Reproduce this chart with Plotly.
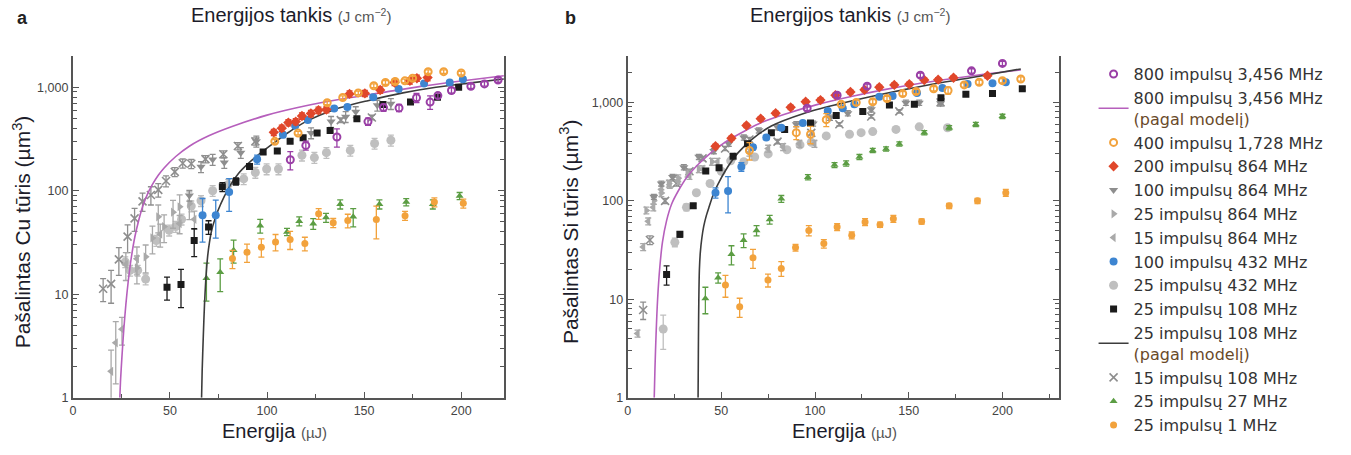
import plotly.graph_objects as go

W, H = 1351, 455

# ---------------- DATA: panel a (Cu) ----------------
A_E_800 = [112, 120, 136, 152, 160, 168, 177, 184, 188, 195, 205, 212, 219]
A_V_800 = [199, 274, 330, 465, 635, 631, 790, 718, 830, 930, 1022, 1076, 1174]
A_R_800 = [0.2, 0.1, 0.2, 0.08, 0.08, 0.08, 0.1, 0.15, 0.06, 0.06, 0.05, 0.05, 0.05]

A_E_800M = [24.2, 24.6, 25.3, 26.2, 27.3, 28.5, 30, 32, 34, 36, 38.5, 41, 44, 47, 53, 60, 70, 82, 100, 120, 140, 160, 180, 200, 222]
A_V_800M = [1, 1.51, 2.51, 4.47, 7.94, 13.2, 21.9, 36.3, 52.5, 70.8, 93.3, 115, 141, 166, 214, 269, 339, 417, 537, 661, 776, 891, 1023, 1148, 1288]

A_E_400 = [104, 116, 131, 139, 147, 155, 161, 166, 171, 175, 183, 191, 200]
A_V_400 = [300, 360, 708, 794, 881, 1033, 1111, 1135, 1152, 1221, 1413, 1413, 1371]

A_E_200 = [103.5, 107.6, 111, 114.8, 118, 122.6, 126.5, 130.6, 142.5, 150.4, 158.3, 165.7, 173.6, 177.2, 182.7]
A_V_200 = [366, 402, 455, 465, 527, 557, 599, 608, 861, 872, 939, 1111, 1152, 1221, 1240]

A_E_100_864 = [60, 66, 72, 78, 86.5, 94.5, 122.7, 133, 140.5, 145.7, 156.8, 163.8]
A_V_100_864 = [90, 170, 200, 187, 233, 300, 361, 465, 518, 578, 668, 692]

A_E_25_864 = [33, 37.5, 41, 44, 47, 51.6, 55, 60]
A_V_25_864 = [18, 23, 35, 56, 45, 62, 70, 75]

A_E_15_864 = [19.7, 22.1, 25.3, 27.3, 33, 45, 55, 62.6]
A_V_15_864 = [1.8, 3.4, 4.6, 19.4, 22, 38, 48, 53]
A_R_15_864 = [0.6, 0.6, 0.3, 0.3, 0.3, 0.25, 0.2, 0.2]

A_E_100_432 = [66.8, 73.6, 80.5, 94.9, 108.2, 114.5, 121, 134.6, 141.4, 154.7, 167.8, 180.9, 194.1, 200.9]
A_V_100_432 = [58, 58, 97, 201, 347, 423, 482, 621, 644, 801, 960, 1086, 1111, 1195]
A_R_100_432 = [0.45, 0.4, 0.35, 0.1, 0.06, 0.05, 0.05, 0.04, 0.04, 0.04, 0.04, 0.04, 0.04, 0.04]

A_E_25_432 = [27, 29.5, 33.4, 37.5, 43, 49.6, 53, 56, 61, 66, 72, 80, 88, 94, 99.8, 105.9, 118, 124.4, 130.6, 142.9, 155.4, 163.8]
A_V_25_432 = [20.5, 17, 17, 14, 33, 41.5, 45, 53, 71, 80, 100, 115, 130, 150, 162, 162, 220, 209, 233, 245, 286, 307]

A_E_25_108 = [48.5, 55.7, 62.5, 69.9, 77, 84, 91, 98, 105.3, 111.9, 118.6, 125.8, 132.5, 146.3, 159.7, 173.9, 187.8, 198.7]
A_V_25_108 = [11.7, 12.4, 33, 44.6, 109, 123, 171, 237, 242, 300, 324, 361, 382, 496, 682, 718, 801, 996]
A_R_25_108 = [0.25, 0.4, 0.3, 0.15, 0.1, 0.08, 0.06, 0.05, 0.05, 0.04, 0.04, 0.04, 0.04, 0.04, 0.04, 0.04, 0.04, 0.04]

A_E_108M = [66.3, 66.6, 67.2, 67.8, 68.5, 69.4, 70.4, 71.5, 73, 74.7, 78, 81.2, 85.3, 90.1, 95, 102, 110, 120, 135, 152, 170, 187, 205, 222]
A_V_108M = [1, 1.8, 4, 7.9, 14, 23, 32, 41.5, 52, 64, 88, 114, 147, 182, 218, 275, 355, 465, 610, 741, 881, 1000, 1100, 1200]

A_E_15_108 = [15.6, 19.7, 23.7, 28.2, 31.8, 35.9, 40.2, 44, 48, 52.5, 56.6, 61, 68.3, 77.5, 85, 94, 138, 154]
A_V_15_108 = [11.3, 12.6, 21.7, 36, 54, 79, 91, 102, 124, 152, 184, 182, 202, 225, 270, 300, 480, 510]
A_R_15_108 = [0.25, 0.35, 0.3, 0.3, 0.25, 0.2, 0.2, 0.15, 0.12, 0.1, 0.1, 0.1, 0.08, 0.08, 0.08, 0.08, 0.05, 0.05]

A_E_27 = [68.8, 75.9, 82.8, 96.5, 110.3, 116.6, 123.8, 130.4, 137.7, 144.4, 157.9, 171.7, 185.4, 199.2]
A_V_27 = [14.3, 16.3, 26.6, 45.9, 40, 50.8, 48, 55, 74, 56, 74, 77.6, 74, 89]
A_R_27 = [0.4, 0.35, 0.25, 0.15, 0.08, 0.1, 0.12, 0.1, 0.1, 0.2, 0.1, 0.08, 0.1, 0.08]

A_E_1 = [82.2, 89.7, 97.1, 104.4, 111.9, 119.5, 126.6, 134.1, 141.6, 156.3, 171.1, 186.2, 201.1]
A_V_1 = [22.1, 25.4, 28.5, 32, 33.8, 30.9, 60, 49, 51.5, 52.6, 57.4, 77.6, 75.5]
A_R_1 = [0.2, 0.2, 0.2, 0.18, 0.2, 0.15, 0.12, 0.1, 0.15, 0.35, 0.1, 0.1, 0.1]

# ---------------- DATA: panel b (Si) ----------------
B_E_800 = [95.8, 111.8, 127.8, 156.2, 183.5, 200]
B_V_800 = [872, 1182, 1462, 1892, 2091, 2490]

B_E_800M = [14.2, 14.6, 15.2, 16, 17.2, 18.6, 20.8, 23.5, 27, 32, 37.6, 43, 48.3, 55, 62.5, 72, 83.8, 101.5, 119.3, 137, 154.7, 172.5, 190, 209.8]
B_V_800M = [1, 2.0, 4.47, 10, 21.4, 38, 63, 93, 126, 178, 234, 292, 351, 427, 513, 631, 759, 955, 1148, 1349, 1549, 1738, 1928, 2138]

B_E_400 = [65, 90, 97.6, 106, 114, 122, 130.8, 138.4, 146.8, 153.9, 163.3, 171, 179.6, 187.6, 200, 209.8]
B_V_400 = [325, 493, 475, 668, 955, 1000, 1016, 1096, 1228, 1290, 1378, 1320, 1506, 1603, 1663, 1729]
B_R_400 = [0.2, 0.15, 0.2, 0.15, 0.06, 0.06, 0.05, 0.05, 0.05, 0.05, 0.05, 0.08, 0.05, 0.05, 0.05, 0.05]

B_E_200 = [46.9, 55.4, 63.4, 71, 79, 87, 95, 102.9, 110.9, 118.9, 126.4, 134.3, 142.3, 150.3, 158.3, 165.7, 173.9, 192]
B_V_200 = [358, 433, 583, 684, 778, 891, 1016, 1055, 1182, 1276, 1345, 1428, 1506, 1531, 1690, 1702, 1779, 1862]

B_E_100_864 = [14, 18, 24, 30, 38, 46, 54, 62, 70, 80, 90, 99, 108, 117.5, 130, 148.5, 155.6, 167]
B_V_100_864 = [110, 150, 175, 220, 280, 320, 380, 440, 520, 560, 600, 610, 700, 778, 850, 993, 993, 978]

B_E_25_864 = [10, 14, 18, 22, 27, 32, 38, 45]
B_V_25_864 = [80, 100, 120, 150, 170, 190, 210, 250]

B_E_15_864 = [5.3, 8.3, 11, 13.7, 18, 22.5, 27, 33, 40, 48, 56, 65, 75, 83, 91.7, 99.7]
B_V_15_864 = [4.5, 34, 62, 86, 131, 146, 160, 180, 210, 250, 280, 310, 340, 353, 380, 380]

B_E_100_432 = [46.9, 53.6, 60.7, 66.9, 74, 82, 93.5, 106.8, 114.8, 121, 134.3, 141.4, 154.4, 168, 181.4, 194.7, 201.8]
B_V_100_432 = [121, 126, 222, 351, 441, 553, 617, 820, 872, 955, 1138, 1164, 1247, 1397, 1542, 1566, 1603]
B_R_100_432 = [0.12, 0.4, 0.1, 0.06, 0.05, 0.05, 0.05, 0.05, 0.05, 0.05, 0.04, 0.04, 0.04, 0.04, 0.04, 0.04, 0.04]

B_E_25_432 = [19, 25.2, 31.4, 36.7, 44, 50, 55, 62, 67.8, 75, 85, 92, 98, 106, 118.4, 124.6, 130.8, 143.2, 155.6, 170.7]
B_V_25_432 = [5, 38, 86, 121, 150, 200, 255, 250, 279, 300, 330, 370, 393, 457, 475, 493, 505, 532, 565, 553]
B_R_25_432 = [0.38, 0.1, 0.08, 0.06, 0.06, 0.05, 0.05, 0.05, 0.05, 0.05, 0.05, 0.05, 0.05, 0.05, 0.04, 0.04, 0.04, 0.04, 0.04, 0.04]

B_E_25_108 = [20.8, 27.9, 35, 41.7, 48.8, 56.3, 64, 76.7, 83.8, 97.6, 111.3, 125.5, 139.7, 153, 167.2, 180.5, 194.7, 210.6]
B_V_25_108 = [17.9, 45.7, 89, 201, 217, 283, 380, 493, 532, 619, 738, 809, 942, 955, 1112, 1210, 1228, 1378]
B_R_25_108 = [0.22, 0.06, 0.05, 0.04, 0.04, 0.04, 0.04, 0.04, 0.04, 0.04, 0.04, 0.04, 0.04, 0.04, 0.04, 0.04, 0.04, 0.04]

B_E_108M = [37.6, 37.7, 37.8, 38.0, 38.3, 38.8, 39.6, 40.6, 42, 43.5, 46, 49, 52, 55, 59, 66, 76.7, 94.4, 112, 130, 147.6, 165.4, 183, 209.8]
B_V_108M = [1, 2, 4, 10, 20, 30, 41.7, 55, 70.8, 87, 120, 158, 200, 245, 309, 417, 575, 776, 955, 1148, 1349, 1567, 1778, 2188]

B_E_15_108 = [8.3, 11.9, 20, 26, 33, 40, 52, 65, 80, 98, 113, 130, 145, 167]
B_V_15_108 = [7.8, 40, 100, 150, 200, 270, 340, 420, 400, 490, 600, 720, 810, 1000]
B_R_15_108 = [0.2, 0.1, 0.06, 0.06, 0.05, 0.05, 0.05, 0.05, 0.05, 0.05, 0.04, 0.04, 0.04, 0.04]

B_E_27 = [41.5, 48.3, 55.4, 61.9, 68.8, 75.8, 82, 96.2, 110.4, 116.6, 123.7, 130.8, 137.9, 145, 158.3, 171.6, 185.8, 200]
B_V_27 = [10.2, 16.6, 28.7, 39.8, 50, 64.6, 105, 174, 231, 240, 279, 325, 337, 378, 493, 553, 597, 722]
B_R_27 = [0.3, 0.12, 0.22, 0.16, 0.12, 0.1, 0.08, 0.06, 0.06, 0.06, 0.06, 0.05, 0.05, 0.05, 0.05, 0.05, 0.05, 0.05]

B_E_1 = [52.2, 59.8, 66.9, 74.9, 82, 89.6, 96.7, 104.7, 111.8, 119.6, 126.7, 134.7, 141.8, 156.9, 171.6, 186.7, 201.8]
B_V_1 = [14, 8.4, 26.4, 15.7, 20.6, 33.5, 50, 36.8, 54.2, 44.7, 61, 57.3, 65.8, 61.7, 89, 100, 121]
B_R_1 = [0.25, 0.22, 0.22, 0.15, 0.17, 0.08, 0.12, 0.1, 0.08, 0.08, 0.08, 0.06, 0.08, 0.06, 0.06, 0.06, 0.08]

# tick labels / axis ranges
Y_TICKS = [1, 10, 100, 1000]
Y_TICKTEXT = ["1", "10", "100", "1,000"]
E_TICKS = [0, 50, 100, 150, 200]
F_TICKS = [0, 10, 20, 30, 40]
A_E_MAX, A_F_MAX = 222, 42.5
B_E_MAX, B_F_MAX = 230, 43.4

# ---------------- styles ----------------
C_PURPLE = "#9a3fa6"
C_MAGENTA = "#b65fbc"
C_ORANGE = "#f2a23c"
C_RED = "#e0472b"
C_GRAY = "#8e8e8e"
C_GRAY2 = "#a9a9a9"
C_BLUE = "#3d85d1"
C_LGRAY = "#bfbfbf"
C_BLACK = "#1b1b1b"
C_BLINE = "#3c3c3c"
C_GREEN = "#5b9d43"

MODEL = "<br><span style='color:#6a4a2a'>(pagal modelį)</span>"
SERIES = [
    ("800", "800 impulsų 3,456 MHz", 1),
    ("800M", "800 impulsų 3,456 MHz" + MODEL, 2),
    ("400", "400 impulsų 1,728 MHz", 3),
    ("200", "200 impulsų 864 MHz", 4),
    ("100_864", "100 impulsų 864 MHz", 5),
    ("25_864", "25 impulsų 864 MHz", 6),
    ("15_864", "15 impulsų 864 MHz", 7),
    ("100_432", "100 impulsų 432 MHz", 8),
    ("25_432", "25 impulsų 432 MHz", 9),
    ("25_108", "25 impulsų 108 MHz", 10),
    ("108M", "25 impulsų 108 MHz" + MODEL, 11),
    ("15_108", "15 impulsų 108 MHz", 12),
    ("27", "25 impulsų 27 MHz", 13),
    ("1", "25 impulsų 1 MHz", 14),
]
STYLE = {
    "800": dict(symbol="circle-open", color=C_PURPLE, size=7, lw=2),
    "400": dict(symbol="circle-open", color=C_ORANGE, size=7, lw=2),
    "200": dict(symbol="diamond", color=C_RED, size=8, lw=0),
    "100_864": dict(symbol="triangle-down", color=C_GRAY, size=8, lw=0),
    "25_864": dict(symbol="triangle-right", color=C_GRAY2, size=8, lw=0),
    "15_864": dict(symbol="triangle-left", color=C_GRAY2, size=8, lw=0),
    "100_432": dict(symbol="circle", color=C_BLUE, size=8, lw=0),
    "25_432": dict(symbol="circle", color=C_LGRAY, size=9, lw=0),
    "25_108": dict(symbol="square", color=C_BLACK, size=7, lw=0),
    "15_108": dict(symbol="x-thin-open", color=C_GRAY, size=8, lw=1.6),
    "27": dict(symbol="triangle-up", color=C_GREEN, size=7, lw=0),
    "1": dict(symbol="circle", color=C_ORANGE, size=7, lw=0),
}
LINESTYLE = {"800M": C_MAGENTA, "108M": C_BLINE}

DATA = {
    "a": {
        "800": (A_E_800, A_V_800, A_R_800), "800M": (A_E_800M, A_V_800M, None),
        "400": (A_E_400, A_V_400, 0.04), "200": (A_E_200, A_V_200, 0.07),
        "100_864": (A_E_100_864, A_V_100_864, 0.12), "25_864": (A_E_25_864, A_V_25_864, 0.3),
        "15_864": (A_E_15_864, A_V_15_864, A_R_15_864), "100_432": (A_E_100_432, A_V_100_432, A_R_100_432),
        "25_432": (A_E_25_432, A_V_25_432, 0.12), "25_108": (A_E_25_108, A_V_25_108, A_R_25_108),
        "108M": (A_E_108M, A_V_108M, None), "15_108": (A_E_15_108, A_V_15_108, A_R_15_108),
        "27": (A_E_27, A_V_27, A_R_27), "1": (A_E_1, A_V_1, A_R_1),
    },
    "b": {
        "800": (B_E_800, B_V_800, 0.05), "800M": (B_E_800M, B_V_800M, None),
        "400": (B_E_400, B_V_400, B_R_400), "200": (B_E_200, B_V_200, 0.05),
        "100_864": (B_E_100_864, B_V_100_864, 0.06), "25_864": (B_E_25_864, B_V_25_864, 0.08),
        "15_864": (B_E_15_864, B_V_15_864, 0.08), "100_432": (B_E_100_432, B_V_100_432, B_R_100_432),
        "25_432": (B_E_25_432, B_V_25_432, B_R_25_432), "25_108": (B_E_25_108, B_V_25_108, B_R_25_108),
        "108M": (B_E_108M, B_V_108M, None), "15_108": (B_E_15_108, B_V_15_108, B_R_15_108),
        "27": (B_E_27, B_V_27, B_R_27), "1": (B_E_1, B_V_1, B_R_1),
    },
}

DRAW_ORDER = ["25_432", "15_108", "15_864", "25_864", "100_864", "27", "1",
              "800M", "108M", "25_108", "100_432", "200", "400", "800"]

fig = go.Figure()
names = {k: (n, r) for k, n, r in SERIES}
for panel, xa, ya in (("a", "x", "y"), ("b", "x2", "y2")):
    for key in DRAW_ORDER:
        E, V, rel = DATA[panel][key]
        name, rank = names[key]
        common = dict(x=E, y=V, name=name, legendgroup=key, legendrank=rank,
                      showlegend=(panel == "a"), xaxis=xa, yaxis=ya, hoverinfo="skip")
        if key in LINESTYLE:
            fig.add_trace(go.Scatter(mode="lines", line=dict(color=LINESTYLE[key], width=1.6, shape="spline", smoothing=0.8), **common))
        else:
            st = STYLE[key]
            rl = rel if isinstance(rel, list) else [rel] * len(V)
            err = [v * r for v, r in zip(V, rl)]
            fig.add_trace(go.Scatter(
                mode="markers",
                marker=dict(symbol=st["symbol"], color=st["color"], size=st["size"],
                            line=dict(width=st["lw"], color=st["color"])),
                error_y=dict(type="data", array=err, visible=True, color=st["color"], thickness=1.3, width=3),
                **common))

axis_common = dict(showgrid=False, zeroline=False, showline=True, linecolor="#555", linewidth=2,
                   ticks="inside", ticklen=6, tickwidth=1.2, tickcolor="#555",
                   tickfont=dict(family="Liberation Sans", size=12.5, color="#444"))
y_minor = [m * 10 ** d for d in range(0, 4) for m in range(2, 10)]


def xdom(p0, p1):
    return [p0 / W, p1 / W]


YDOM = [1 - 404 / H, 1 - 57 / H]
layout_axes = {}
for i, (p0, p1, emax, fmax, ytop) in enumerate(((70, 502, A_E_MAX, A_F_MAX, 3.30), (626, 1058, B_E_MAX, B_F_MAX, 3.47))):
    n = "" if i == 0 else "2"
    layout_axes["xaxis" + n] = dict(axis_common, domain=xdom(p0, p1), range=[0, emax], anchor="y" + n,
                                    tickvals=E_TICKS,
                                    minor=dict(tickvals=[25, 75, 125, 175, 225], ticks="inside", ticklen=4, tickcolor="#555"))
    layout_axes["yaxis" + n] = dict(axis_common, domain=YDOM, type="log", range=[0, ytop], anchor="x" + n,
                                    tickvals=Y_TICKS, ticktext=Y_TICKTEXT, mirror="allticks",
                                    minor=dict(tickvals=y_minor, ticks="inside", ticklen=4, tickcolor="#555"))
    layout_axes["xaxis" + str(3 + i)] = dict(axis_common, overlaying="x" + n, side="top", anchor="y" + n,
                                            range=[0, fmax], tickvals=F_TICKS,
                                            minor=dict(tickvals=[5, 15, 25, 35, 45], ticks="inside", ticklen=4, tickcolor="#555"))

FONT = "Liberation Sans"
UNIT = "<span style='font-size:15px;color:#555'>{}</span>"
ann = []
for cx in (289, 849):
    ann.append(dict(x=cx / W, y=1 - 15 / H, text="Energijos tankis " + UNIT.format("(J cm<sup>−2</sup>)"),
                    font=dict(family=FONT, size=20, color="#1c1c2a")))
for cx in (272, 843):
    ann.append(dict(x=cx / W, y=1 - 438 / H, text="Energija " + UNIT.format("(µJ)"),
                    font=dict(family=FONT, size=20, color="#1c1c2a")))
for cx, mat in ((19, "Cu"), (568, "Si")):
    ann.append(dict(x=cx / W, y=1 - 235 / H, textangle=-90,
                    text=f"Pašalintas {mat} tūris (µm<sup>3</sup>)",
                    font=dict(family=FONT, size=21, color="#1c1c2a")))
for cx, lab in ((20, "a"), (569, "b")):
    ann.append(dict(x=cx / W, y=1 - 18 / H, text=f"<b>{lab}</b>", font=dict(family=FONT, size=18, color="#222")))
for a in ann:
    a.update(xref="paper", yref="paper", showarrow=False, xanchor="center", yanchor="middle")

fig.update_layout(
    width=W, height=H, margin=dict(l=0, r=0, t=0, b=0),
    paper_bgcolor="white", plot_bgcolor="white",
    font=dict(family=FONT, color="#333"),
    showlegend=True,
    legend=dict(x=1093 / W, y=1 - 58 / H, xanchor="left", yanchor="top",
                font=dict(family="DejaVu Sans", size=16, color="#333"),
                tracegroupgap=0, itemwidth=30, bgcolor="rgba(0,0,0,0)"),
    annotations=ann,
    **layout_axes,
)

fig.write_html("out.html")
